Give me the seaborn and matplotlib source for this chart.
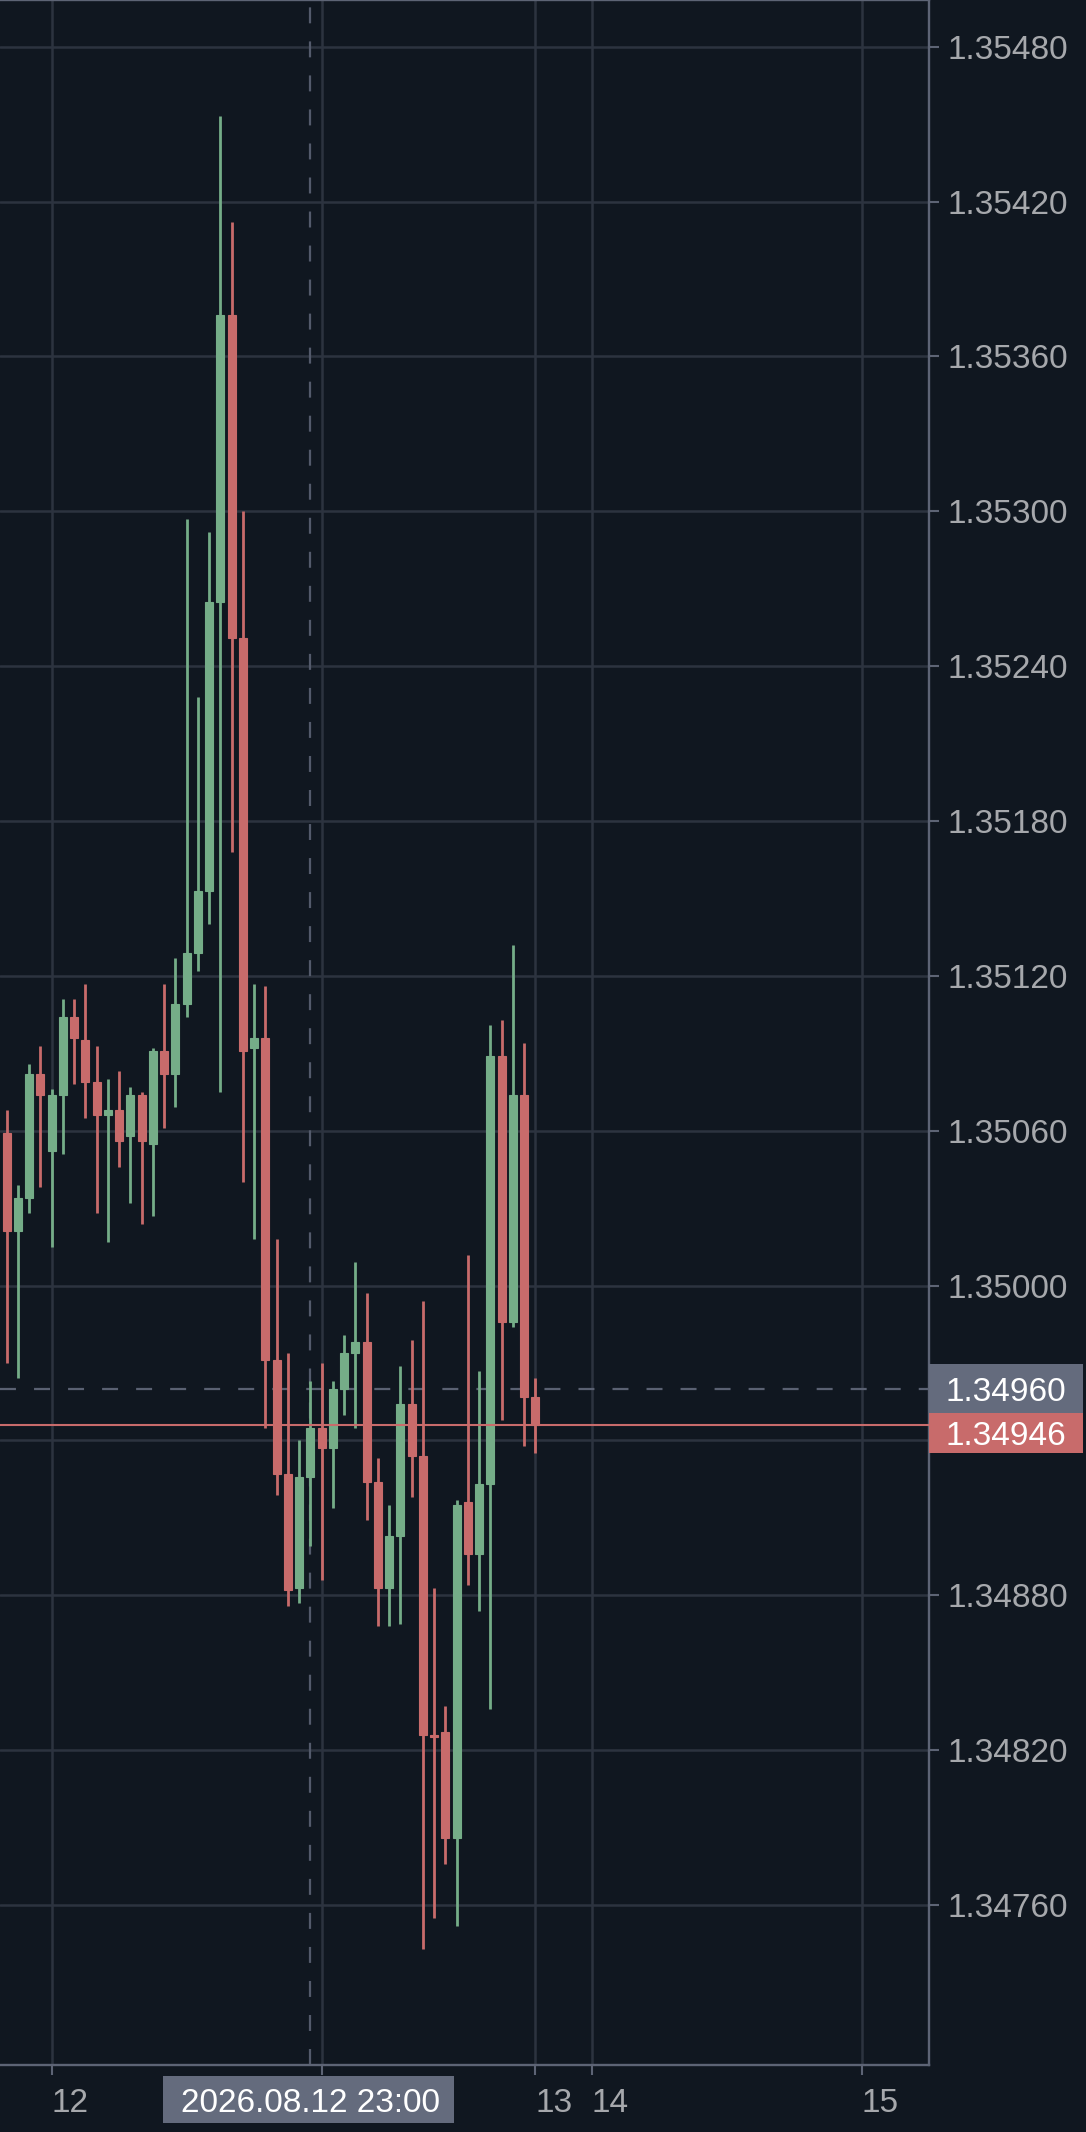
import matplotlib
matplotlib.use("Agg")
import matplotlib.pyplot as plt
from matplotlib.patches import Rectangle
import pandas as pd
import seaborn as sns

# ----------------------------- #
#  Candle data
# ----------------------------- #
opens = [1.35059, 1.35021, 1.35034, 1.35082, 1.35052, 1.35074, 1.35104, 1.35095,
         1.35079, 1.35066, 1.35068, 1.35058, 1.35074, 1.35055, 1.35091, 1.35082,
         1.35109, 1.35129, 1.35153, 1.35265, 1.35376, 1.35251, 1.35092, 1.35096,
         1.34971, 1.34927, 1.34883, 1.34926, 1.34945, 1.34937, 1.34960, 1.34974,
         1.34978, 1.34924, 1.34883, 1.34903, 1.34954, 1.34934, 1.34826, 1.34827,
         1.34786, 1.34916, 1.34896, 1.34923, 1.35089, 1.34986, 1.35074, 1.34957]
highs = [1.35068, 1.35039, 1.35086, 1.35093, 1.35076, 1.35111, 1.35111, 1.35117,
         1.35093, 1.35080, 1.35083, 1.35077, 1.35075, 1.35092, 1.35117, 1.35127,
         1.35297, 1.35228, 1.35292, 1.35453, 1.35412, 1.35300, 1.35117, 1.35116,
         1.35018, 1.34974, 1.34940, 1.34963, 1.34970, 1.34963, 1.34981, 1.35009,
         1.34997, 1.34933, 1.34915, 1.34969, 1.34979, 1.34994, 1.34883, 1.34837,
         1.34917, 1.35012, 1.34967, 1.35101, 1.35103, 1.35132, 1.35094, 1.34964]
lows = [1.34970, 1.34964, 1.35028, 1.35038, 1.35015, 1.35051, 1.35078, 1.35065,
        1.35028, 1.35017, 1.35046, 1.35032, 1.35024, 1.35027, 1.35061, 1.35069,
        1.35104, 1.35122, 1.35140, 1.35075, 1.35168, 1.35040, 1.35018, 1.34945,
        1.34919, 1.34876, 1.34877, 1.34899, 1.34886, 1.34914, 1.34950, 1.34945,
        1.34909, 1.34868, 1.34868, 1.34869, 1.34918, 1.34743, 1.34755, 1.34776,
        1.34752, 1.34884, 1.34874, 1.34836, 1.34948, 1.34984, 1.34938, 1.34935]
closes = [1.35021, 1.35034, 1.35082, 1.35074, 1.35074, 1.35104, 1.35096, 1.35079,
          1.35066, 1.35068, 1.35056, 1.35074, 1.35056, 1.35091, 1.35082, 1.35109,
          1.35129, 1.35153, 1.35265, 1.35376, 1.35251, 1.35091, 1.35096, 1.34971,
          1.34927, 1.34882, 1.34926, 1.34945, 1.34937, 1.34960, 1.34974, 1.34978,
          1.34924, 1.34883, 1.34903, 1.34954, 1.34934, 1.34826, 1.34825, 1.34786,
          1.34915, 1.34896, 1.34923, 1.35089, 1.34986, 1.35074, 1.34957, 1.34946]

price_ticks = [1.34760, 1.34820, 1.34880, 1.34940, 1.35000, 1.35060, 1.35120,
               1.35180, 1.35240, 1.35300, 1.35360, 1.35420, 1.35480]
time_ticks = [4, 28, 47, 52, 76]
time_labels = ['12', '', '13', '14', '15']

crosshair_bar = 27
crosshair_time = '2026.08.12 23:00'
crosshair_price = 1.34960
last_price = 1.34946

# ----------------------------- #
#  Style
# ----------------------------- #
BG = '#101720'
GRID = '#2c333f'
SPINE = '#5d6475'
TXT = '#a6a8ac'
UP = '#75ad88'
DOWN = '#c86b6b'
TAG_GRAY = '#646b7d'

sns.set_theme(style='dark', rc={'axes.facecolor': BG, 'figure.facecolor': BG})
plt.rcParams['font.family'] = ['Liberation Sans', 'DejaVu Sans']
plt.rcParams['lines.scale_dashes'] = False

df = pd.DataFrame({'open': opens, 'high': highs, 'low': lows, 'close': closes})
df['bar'] = range(len(df))
df['color'] = [UP if c >= o else DOWN for o, c in zip(df['open'], df['close'])]
df['body_lo'] = df[['open', 'close']].min(axis=1)
df['body_h'] = (df['open'] - df['close']).abs()

W, H = 1086, 2132
fig = plt.figure(figsize=(W / 100, H / 100), dpi=100)
ax = fig.add_axes([0, 67 / H, 929 / W, 2065 / H])
ax.set_facecolor(BG)

# wicks + bodies
ax.vlines(df['bar'], df['low'], df['high'], colors=df['color'], linewidth=2.0, zorder=3)
ax.bar(df['bar'], df['body_h'], bottom=df['body_lo'], width=0.71,
       color=df['color'], edgecolor=df['color'], linewidth=0.8, zorder=4)

ax.set_xlim(-0.6, 82.0)
ax.set_ylim(1.34698, 1.354981)

# grid / axes
ax.set_yticks(price_ticks)
ax.set_yticklabels([f'{p:.5f}' for p in price_ticks])
ax.set_xticks(time_ticks)
ax.set_xticklabels(time_labels)
for lbl in ax.get_xticklabels():
    lbl.set_ha('left')
ax.yaxis.tick_right()
ax.grid(True, color=GRID, linewidth=1.8, zorder=0)
ax.set_axisbelow(True)
ax.tick_params(axis='y', length=7.2, width=1.5, color=SPINE, pad=6,
               labelsize=24, labelcolor=TXT, right=True, left=False)
ax.tick_params(axis='x', length=7.2, width=1.5, color=SPINE, pad=9,
               labelsize=24, labelcolor=TXT, bottom=True)
ax.spines['left'].set_visible(False)
for s in ['top', 'right', 'bottom']:
    ax.spines[s].set_color(SPINE)
    ax.spines[s].set_linewidth(1.7)

# crosshair + last price line
ax.axvline(crosshair_bar, color='#535a6b', linewidth=1.6, linestyle=(0, (11.5, 13)), zorder=2)
ax.axhline(crosshair_price, color='#5a6172', linewidth=1.6, linestyle=(0, (11.5, 13)), zorder=2)
ax.axhline(last_price, color=DOWN, linewidth=1.5, zorder=5)

# ----------------------------- #
#  Price tags and time tag
# ----------------------------- #
x1 = ax.bbox.x1
_, yp = ax.transData.transform((0, crosshair_price))
fig.add_artist(Rectangle((x1 / W, (yp - 24.5) / H), 154 / W, 49 / H,
                         transform=fig.transFigure, facecolor=TAG_GRAY, edgecolor='none', zorder=5))
fig.text((x1 + 77) / W, (yp - 12) / H, f'{crosshair_price:.5f}', color='white',
         fontsize=24, ha='center', va='baseline', zorder=6)
fig.add_artist(Rectangle((x1 / W, (yp - 64.5) / H), 154 / W, 40 / H,
                         transform=fig.transFigure, facecolor=DOWN, edgecolor='none', zorder=5))
fig.text((x1 + 77) / W, (yp - 56.5) / H, f'{last_price:.5f}', color='white',
         fontsize=24, ha='center', va='baseline', zorder=6)

xc, _ = ax.transData.transform((crosshair_bar, crosshair_price))
yc = ax.bbox.y0 - 34.5
fig.add_artist(Rectangle(((xc - 147) / W, (yc - 23.5) / H), 291 / W, 47 / H,
                         transform=fig.transFigure, facecolor=TAG_GRAY, edgecolor='none', zorder=5))
fig.text(xc / W, (yc - 12) / H, crosshair_time, color='white',
         fontsize=24, ha='center', va='baseline', zorder=6)

fig.savefig('out.png', dpi=100, facecolor=BG)
